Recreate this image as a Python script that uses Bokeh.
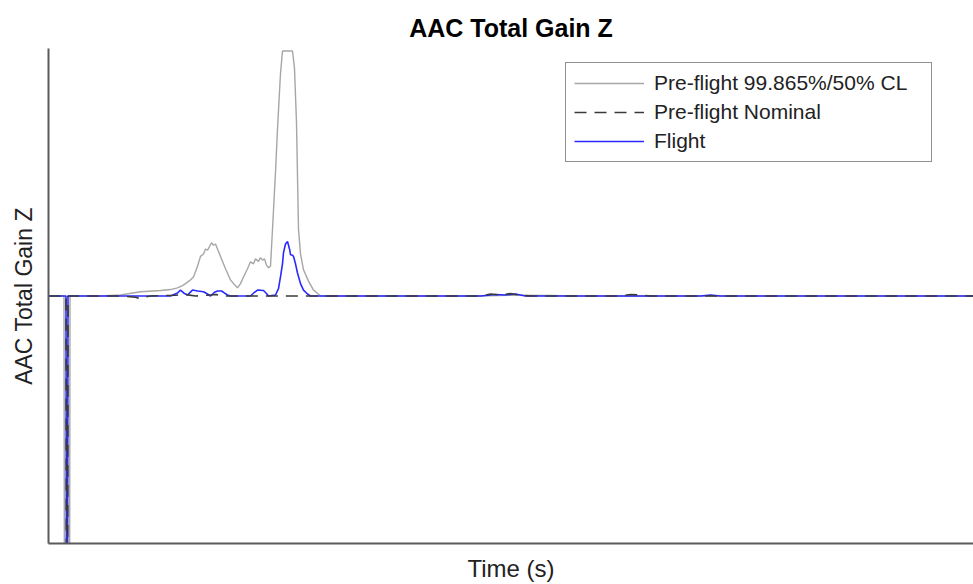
from bokeh.plotting import figure
from bokeh.models import Legend, LegendItem, Range1d, FixedTicker
from bokeh.embed import file_html
from bokeh.resources import INLINE

# Time (arbitrary units, s) and gain values
cl_time = [0, 15.5, 16, 21, 21.5, 52, 72, 92, 112, 122, 129, 134, 137, 141, 145, 149, 152, 155,
           157, 159, 161, 163, 165, 167, 169, 172, 177, 182, 186, 189, 192, 195, 199, 202, 205,
           207, 210, 212, 214, 216, 218, 220, 222, 224, 227, 229, 232, 234, 244, 246, 248, 250,
           252, 255, 260, 265, 272, 430, 460, 500, 530, 925]
cl_gain = [0, 0, -1.5, -1.5, 0, 0, 0.004, 0.017, 0.022, 0.026, 0.033, 0.042, 0.05, 0.062, 0.077,
           0.12, 0.16, 0.17, 0.19, 0.185, 0.2, 0.215, 0.205, 0.21, 0.19, 0.16, 0.11, 0.065, 0.045,
           0.033, 0.05, 0.077, 0.11, 0.138, 0.13, 0.15, 0.14, 0.155, 0.145, 0.15, 0.125, 0.114,
           0.12, 0.27, 0.5, 0.675, 0.9, 0.99, 0.99, 0.92, 0.7, 0.27, 0.17, 0.106, 0.06, 0.024,
           0, 0, 0.003, 0.002, 0, 0]

nom_time = [0, 17.5, 18, 19, 19.5, 72, 87, 92, 97, 102, 127, 137, 147, 162, 167, 177, 432,
            442, 452, 462, 472, 482, 572, 582, 592, 602, 925]
nom_gain = [0, 0, -1.5, -1.5, 0, 0, -0.005, -0.012, -0.004, 0, 0.003, 0.006, 0, 0.004, 0.006,
            0, 0, 0.008, 0.004, 0.01, 0.003, 0, 0, 0.006, 0.004, 0, 0]

flt_time = [0, 17.5, 18, 19, 19.5, 122, 129, 132, 136, 139, 144, 149, 155, 159, 162, 166, 169,
            173, 175, 179, 182, 202, 206, 209, 215, 218, 220, 227, 230, 232, 234, 235, 237, 239,
            241, 242, 244, 245, 247, 249, 252, 255, 259, 262, 432, 447, 457, 467, 477, 652, 662,
            672, 925]
flt_gain = [0, 0, -1.5, -1.5, 0, 0, 0.012, 0.024, 0.01, 0.004, 0.024, 0.02, 0.017, 0.008, 0,
            0.015, 0.02, 0.02, 0.015, 0.004, 0, 0, 0.015, 0.024, 0.022, 0.01, 0, 0.004, 0.03,
            0.078, 0.13, 0.175, 0.21, 0.22, 0.19, 0.167, 0.165, 0.16, 0.13, 0.093, 0.05, 0.024,
            0.008, 0, 0, 0.006, 0.004, 0.008, 0, 0, 0.004, 0, 0]

labels = ["Pre-flight 99.865%/50% CL", "Pre-flight Nominal", "Flight"]
FONT = "Liberation Sans"

p = figure(width=973, height=584, output_backend="svg", toolbar_location=None,
           x_range=Range1d(0, 925), y_range=Range1d(-1, 1),
           min_border_left=48, min_border_right=0, min_border_bottom=41, min_border_top=48)

p.title.text = "AAC Total Gain Z"
p.title.align = "center"
p.title.text_font = FONT
p.title.text_font_size = "25px"
p.title.text_font_style = "bold"
p.title.text_color = "#000000"
p.title.offset = 5
p.title.standoff = 14

p.outline_line_color = None
p.grid.visible = False
p.background_fill_color = "white"
p.border_fill_color = "white"

for ax in (p.xaxis[0], p.yaxis[0]):
    ax.ticker = FixedTicker(ticks=[])
    ax.major_tick_line_color = None
    ax.minor_tick_line_color = None
    ax.axis_line_color = "#5a5a5a"
    ax.axis_line_width = 2
    ax.axis_label_text_font = FONT
    ax.axis_label_text_font_style = "normal"
    ax.axis_label_text_color = "#222222"

p.xaxis.axis_label = "Time (s)"
p.xaxis.axis_label_text_font_size = "24px"
p.xaxis.axis_label_standoff = 11
p.yaxis.axis_label = "AAC Total Gain Z"
p.yaxis.axis_label_text_font_size = "23px"
p.yaxis.axis_label_standoff = 12

r_cl = p.line(cl_time, cl_gain, line_color="#a6a6a6", line_width=1.4)
r_flt = p.line(flt_time, flt_gain, line_color="#2a2aff", line_width=1.6)
r_nom = p.line(nom_time, nom_gain, line_color="#3a3a3a", line_width=1.6, line_dash="12 8")

legend = Legend(items=[LegendItem(label=labels[0], renderers=[r_cl]),
                       LegendItem(label=labels[1], renderers=[r_nom]),
                       LegendItem(label=labels[2], renderers=[r_flt])],
                location=(517, 381))
legend.label_text_font = FONT
legend.label_text_font_size = "21px"
legend.label_text_color = "#222222"
legend.glyph_width = 70
legend.glyph_height = 22
legend.label_height = 22
legend.label_width = 269
legend.label_standoff = 10
legend.spacing = 5
legend.padding = 8
legend.margin = 0
legend.border_line_color = "#222222"
legend.border_line_width = 1.6
legend.background_fill_alpha = 1
p.add_layout(legend, "center")

open("out.html", "w").write(file_html(p, INLINE))
